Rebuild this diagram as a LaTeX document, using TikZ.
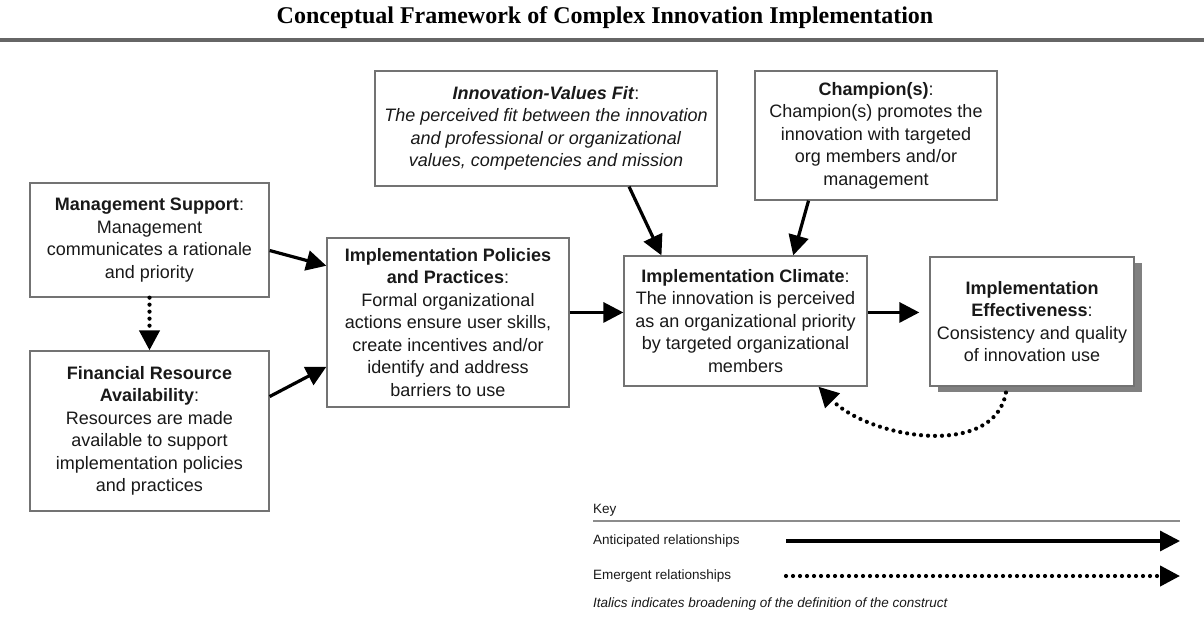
\documentclass[tikz,border=0pt]{standalone}
\usepackage{fontspec}
\setmainfont{Liberation Sans}
\newfontfamily\titlefont{Liberation Serif}
\usepackage{tikz}
\usepackage{xcolor}
\usetikzlibrary{arrows.meta,shadows}

\begin{document}
\begin{tikzpicture}[x=1pt,y=-1pt]
        \tikzstyle{every node}=[inner sep=0pt, text=black!90]
        \tikzstyle{box}=[draw=black!55, line width=1.3pt, fill=white, align=center, font=\fontsize{18}{22.5}\selectfont]
        \tikzstyle{arr}=[line width=3.2pt, -{Triangle[length=20pt,width=20pt]}]
        \tikzstyle{dots}=[arr, line cap=round, dash pattern=on 0pt off 7pt, line width=4.2pt]
        \tikzstyle{keytext}=[anchor=west, font=\fontsize{13.5}{16}\selectfont]

        \useasboundingbox (0,0) rectangle (1204,642);

        \node[anchor=base, text=black] (10) at (605,24) {\titlefont\bfseries\fontsize{24}{28}\selectfont Conceptual Framework of Complex Innovation Implementation};
        \draw[line width=4pt, black!60] (0,40) -- (1204,40);

        \node[box, minimum width=239pt, minimum height=114pt] (11) at (149.5,240)
            {\textbf{Management Support}:\\ Management\\ communicates a rationale\\ and priority};
        \node[box, minimum width=239pt, minimum height=160pt] (12) at (149.5,431)
            {\textbf{Financial Resource}\\ \textbf{Availability}:\\ Resources are made\\ available to support\\ implementation policies\\ and practices};
        \node[box, minimum width=242pt, minimum height=169pt] (13) at (448,322.5)
            {\textbf{Implementation Policies}\\ \textbf{and Practices}:\\ Formal organizational\\ actions ensure user skills,\\ create incentives and/or\\ identify and address\\ barriers to use};
        \node[box, minimum width=342pt, minimum height=115pt] (14) at (546,128.5)
            {\textbf{\textit{Innovation-Values Fit}}:\\ \textit{The perceived fit between the innovation}\\ \textit{and professional or organizational}\\ \textit{values, competencies and mission}};
        \node[box, minimum width=242pt, minimum height=129pt] (15) at (876,135.5)
            {\textbf{Champion(s)}:\\ Champion(s) promotes the\\ innovation with targeted\\ org members and/or\\ management};
        \node[box, minimum width=243pt, minimum height=130pt] (16) at (745.5,321)
            {\textbf{Implementation Climate}:\\ The innovation is perceived\\ as an organizational priority\\ by targeted organizational\\ members};
        \node[box, minimum width=204pt, minimum height=129pt,
              drop shadow={shadow xshift=8pt, shadow yshift=-6pt, fill=black!50, opacity=1}] (17) at (1032,321.5)
            {\textbf{Implementation}\\ \textbf{Effectiveness}:\\ Consistency and quality\\ of innovation use};

        \draw[arr] (11.-5) to (13.155);
        \draw[arr] (12.16) to (13.200);
        \draw[dots] (11) to (12);
        \draw[arr] (13.east |- 16.176) to (16.176);
        \draw[arr] (14.-35) to (16.142);
        \draw[arr] (15.224) to (16.54);
        \draw[arr, shorten >=10pt] (16.4) to (16.4 -| 17.west);
        \draw[dots, shorten <=6pt] (17.249) to[out=260, in=-45] (16.-42);

        \node[keytext] (21) at (593,510) {Key};
        \draw[line width=1.3pt, black!45] (593,521) -- (1180,521);
        \node[keytext] (22) at (593,541) {Anticipated relationships};
        \node[keytext] (23) at (593,576) {Emergent relationships};
        \node[keytext, font=\fontsize{13.5}{16}\selectfont\itshape] (24) at (593,604) {Italics indicates broadening of the definition of the construct};
        \coordinate (25) at (786,541);
        \coordinate (26) at (1180,541);
        \coordinate (27) at (786,576);
        \coordinate (28) at (1180,576);
        \draw[arr] (25) to (26);
        \draw[dots] (27) to (28);
    \end{tikzpicture}
\end{document}
